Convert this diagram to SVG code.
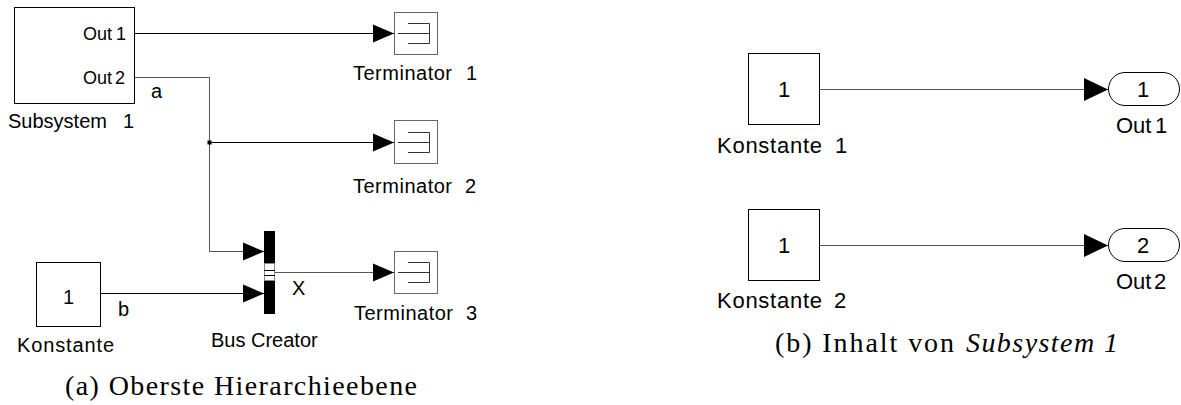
<svg xmlns="http://www.w3.org/2000/svg" width="1181" height="405" viewBox="0 0 1181 405">
<style>
.lbl{font-family:"Liberation Sans",Arial,sans-serif;font-size:20px;fill:#000}
.port{font-size:18px}
.big{font-size:22px}
.mid{text-anchor:middle}
.cap{font-family:"Liberation Serif","Times New Roman",serif;font-size:28px;fill:#000}
.it{font-style:italic}
.blk{fill:#fff;stroke:#000;stroke-width:1}
.term{fill:#fff;stroke:#666;stroke-width:1}
.tg{fill:none;stroke:#333;stroke-width:1}
.wire{fill:none;stroke:#000;stroke-width:1}
.gw{fill:none;stroke:#555;stroke-width:1}
</style>
<defs>
<marker id="arr" markerUnits="userSpaceOnUse" markerWidth="21" markerHeight="18" refX="21" refY="9" orient="auto" overflow="visible">
<path d="M0,0 L21,9 L0,18 Z" fill="#000"/>
</marker>
<marker id="arrB" markerUnits="userSpaceOnUse" markerWidth="24" markerHeight="23" refX="24" refY="11.5" orient="auto" overflow="visible">
<path d="M0,0 L24,11.5 L0,23 Z" fill="#000"/>
</marker>
</defs>

<g id="connectors">
<path class="wire" d="M134,33.5 H394" marker-end="url(#arr)"/>
<path class="gw" d="M134,77.5 H209.5 V251.5 H264" marker-end="url(#arr)"/>
<path class="wire" d="M209.5,142.5 H394" marker-end="url(#arr)"/>
<rect x="207.5" y="140.5" width="4" height="4" fill="#000"/>
<path class="wire" d="M101,293.5 H264" marker-end="url(#arr)"/>
<path class="gw" d="M275,272.5 H394" marker-end="url(#arr)"/>
<path class="gw" d="M820,89.5 H1108" marker-end="url(#arrB)"/>
<path class="gw" d="M820,245.5 H1108" marker-end="url(#arrB)"/>
<text class="lbl" x="151" y="98">a</text>
<text class="lbl" x="118" y="316">b</text>
<text class="lbl" x="292" y="295">X</text>
</g>

<g id="subsystem1">
<rect class="blk" x="14.5" y="7.5" width="120" height="96"/>
<text class="lbl port" x="83" y="40">Out</text><text class="lbl port" x="116" y="40">1</text>
<text class="lbl port" x="83" y="84">Out</text><text class="lbl port" x="115" y="84">2</text>
<text class="lbl" x="8" y="128">Subsystem</text><text class="lbl" x="123" y="128">1</text>
</g>

<g id="terminator1">
<rect class="term" x="394.5" y="12.5" width="43" height="42"/>
<path class="tg" d="M408,23.5 H429.5 V43.5 H408 M398,33.5 H429.5"/>
<text class="lbl" x="353" y="80" textLength="99" lengthAdjust="spacing">Terminator</text><text class="lbl" x="466" y="80">1</text>
</g>

<g id="terminator2">
<rect class="term" x="394.5" y="120.5" width="43" height="43"/>
<path class="tg" d="M408,132.5 H429.5 V152.5 H408 M398,142.5 H429.5"/>
<text class="lbl" x="353" y="193" textLength="99" lengthAdjust="spacing">Terminator</text><text class="lbl" x="465" y="193">2</text>
</g>

<g id="terminator3">
<rect class="term" x="394.5" y="251.5" width="43" height="42"/>
<path class="tg" d="M408,262.5 H429.5 V282.5 H408 M398,272.5 H429.5"/>
<text class="lbl" x="354" y="320" textLength="99" lengthAdjust="spacing">Terminator</text><text class="lbl" x="466" y="320">3</text>
</g>

<g id="buscreator">
<rect x="264" y="231" width="11" height="83" fill="#000"/>
<rect x="264.5" y="263.5" width="10" height="17" fill="#fff" stroke="#888" stroke-width="1"/>
<path d="M264,270.5 H275 M264,275.5 H275" stroke="#000" stroke-width="1"/>
<text class="lbl" x="211" y="347">Bus Creator</text>
</g>

<g id="konstante">
<rect class="blk" x="36.5" y="262.5" width="64" height="64"/>
<text class="lbl mid" x="68.5" y="304">1</text>
<text class="lbl" x="17" y="352" textLength="97" lengthAdjust="spacing">Konstante</text>
</g>

<g id="konstante1">
<rect class="blk" x="748.5" y="53.5" width="71" height="71"/>
<text class="lbl big mid" x="784" y="97">1</text>
<text class="lbl big" x="717" y="153" textLength="105" lengthAdjust="spacing">Konstante</text><text class="lbl big" x="835" y="153">1</text>
</g>

<g id="konstante2">
<rect class="blk" x="748.5" y="209.5" width="71" height="71"/>
<text class="lbl big mid" x="784" y="253">1</text>
<text class="lbl big" x="717" y="308" textLength="105" lengthAdjust="spacing">Konstante</text><text class="lbl big" x="834" y="308">2</text>
</g>

<g id="out1">
<rect class="blk" x="1108.5" y="72.5" width="71" height="33" rx="16.5" ry="16.5"/>
<text class="lbl big mid" x="1143" y="97">1</text>
<text class="lbl big" x="1116" y="133">Out</text><text class="lbl big" x="1155" y="133">1</text>
</g>

<g id="out2">
<rect class="blk" x="1108.5" y="228.5" width="71" height="33" rx="16.5" ry="16.5"/>
<text class="lbl big mid" x="1143" y="253">2</text>
<text class="lbl big" x="1116" y="289">Out</text><text class="lbl big" x="1154" y="289">2</text>
</g>

<g id="captions">
<text class="cap" x="65" y="395" textLength="352" lengthAdjust="spacing">(a) Oberste Hierarchieebene</text>
<text class="cap" x="775" y="352" textLength="179" lengthAdjust="spacing">(b) Inhalt von</text>
<text class="cap it" x="966" y="352" textLength="152" lengthAdjust="spacing">Subsystem 1</text>
</g>
</svg>
